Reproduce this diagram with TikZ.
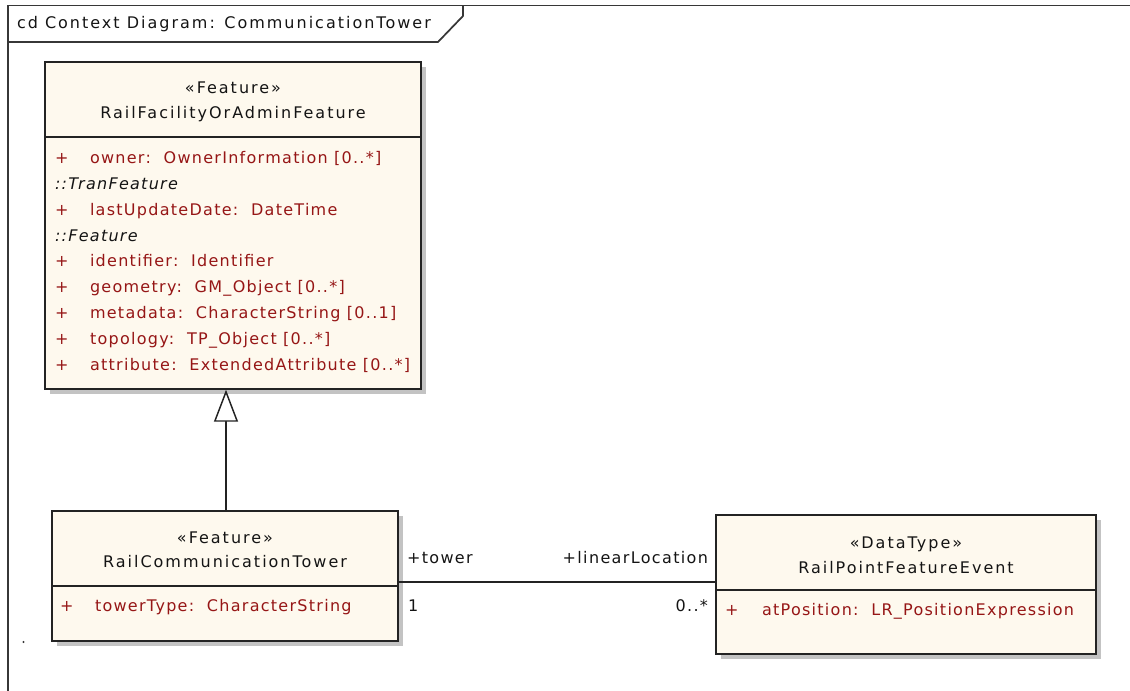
\documentclass[tikz,border=0pt]{standalone}
\usepackage{fontspec}
\setmainfont{DejaVu Sans}[LetterSpace=12.5]
\newfontfamily\attrfont{DejaVu Sans}[LetterSpace=8]
\newfontfamily\rolefont{DejaVu Sans}[LetterSpace=8.5]
\usetikzlibrary{arrows.meta,fit,shadows}

\definecolor{classfill}{RGB}{254,249,238}
\definecolor{boxline}{RGB}{35,35,35}
\definecolor{framegray}{RGB}{55,55,55}
\definecolor{shadowgray}{RGB}{195,195,195}
\definecolor{attrred}{RGB}{150,22,22}
\definecolor{textdark}{RGB}{20,20,20}

\tikzset{
  classbox/.style={draw=boxline, line width=1.1pt, fill=classfill, inner sep=0pt,
    drop shadow={shadow xshift=4pt, shadow yshift=-4pt, fill=shadowgray, opacity=1}},
  divider/.style={draw=boxline, line width=1.1pt},
  frameline/.style={draw=framegray, line width=1.3pt},
  txt/.style={inner sep=0pt, outer sep=0pt, text=textdark,
    font=\fontsize{12pt}{14pt}\selectfont},
  stereo/.style={txt, anchor=base},
  cname/.style={txt, anchor=base},
  attr/.style={txt, anchor=base west, text=attrred,
    font=\attrfont\fontsize{12pt}{14pt}\selectfont},
  inherited/.style={txt, anchor=base west,
    font=\attrfont\itshape\fontsize{12pt}{14pt}\selectfont},
  role/.style={txt, font=\rolefont\fontsize{12pt}{14pt}\selectfont},
  connector/.style={draw=boxline, line width=1.1pt},
  gen/.style={connector, -{Triangle[open, length=24pt, width=18pt, fill=white]}}
}

\begin{document}
\begin{tikzpicture}[x=0.75pt, y=-0.75pt]
\useasboundingbox (0,0) rectangle (1130,691);

% diagram frame and its name tab
\draw[frameline] (8,691) -- (8,5.5) -- (1130,5.5);
\draw[frameline] (8,42) -- (438,42) -- (463,16) -- (463,5.5);
\node[txt, anchor=base west] (title) at (17,29) {cd Context Diagram: CommunicationTower};

% RailFacilityOrAdminFeature
\node[classbox, fit={(45,62) (421,389)}] (facility) {};
\draw[divider] (facility.west |- 0,137) -- (facility.east |- 0,137);
\node[stereo] (facilityStereo) at (233,94) {«Feature»};
\node[cname] (facilityName) at (233,119) {RailFacilityOrAdminFeature};
\node[attr] (fa1p) at (55,164) {+};
\node[attr] (fa1) at (90,164) {owner:\ \ OwnerInformation [0..*]};
\node[inherited] (fi1) at (55,189.75) {::TranFeature};
\node[attr] (fa2p) at (55,215.5) {+};
\node[attr] (fa2) at (90,215.5) {lastUpdateDate:\ \ DateTime};
\node[inherited] (fi2) at (55,241.25) {::Feature};
\node[attr] (fa3p) at (55,267) {+};
\node[attr] (fa3) at (90,267) {identifier:\ \ Identifier};
\node[attr] (fa4p) at (55,292.75) {+};
\node[attr] (fa4) at (90,292.75) {geometry:\ \ GM\_Object [0..*]};
\node[attr] (fa5p) at (55,318.5) {+};
\node[attr] (fa5) at (90,318.5) {metadata:\ \ CharacterString [0..1]};
\node[attr] (fa6p) at (55,344.25) {+};
\node[attr] (fa6) at (90,344.25) {topology:\ \ TP\_Object [0..*]};
\node[attr] (fa7p) at (55,370) {+};
\node[attr] (fa7) at (90,370) {attribute:\ \ ExtendedAttribute [0..*]};

% RailCommunicationTower
\node[classbox, fit={(52,511) (398,641)}] (tower) {};
\draw[divider] (tower.west |- 0,586) -- (tower.east |- 0,586);
\node[stereo] (towerStereo) at (225,543) {«Feature»};
\node[cname] (towerName) at (225,567) {RailCommunicationTower};
\node[attr] (ta1p) at (60,611) {+};
\node[attr] (ta1) at (95,611) {towerType:\ \ CharacterString};

% RailPointFeatureEvent
\node[classbox, fit={(716,515) (1096,654)}] (event) {};
\draw[divider] (event.west |- 0,590) -- (event.east |- 0,590);
\node[stereo] (eventStereo) at (906,548) {«DataType»};
\node[cname] (eventName) at (906,573) {RailPointFeatureEvent};
\node[attr] (ea1p) at (725,615) {+};
\node[attr] (ea1) at (762,615) {atPosition:\ \ LR\_PositionExpression};

% generalization
\draw[gen] (tower.north -| 226,0) -- (facility.south -| 226,0);

% association with its role names and multiplicities
\coordinate (assocLevel) at (0,582);
\draw[connector] (tower.east |- assocLevel) -- (event.west |- assocLevel);
\node[role, anchor=base west] (roleTower) at (407,563) {+tower};
\node[role, anchor=base east] (roleLocation) at (708,563) {+linearLocation};
\node[role, anchor=base west] (multTower) at (408,611) {1};
\node[role, anchor=base east] (multLocation) at (708,611) {0..*};

% stray point
\fill[framegray] (23.5,642) circle (0.8pt);
\end{tikzpicture}
\end{document}
